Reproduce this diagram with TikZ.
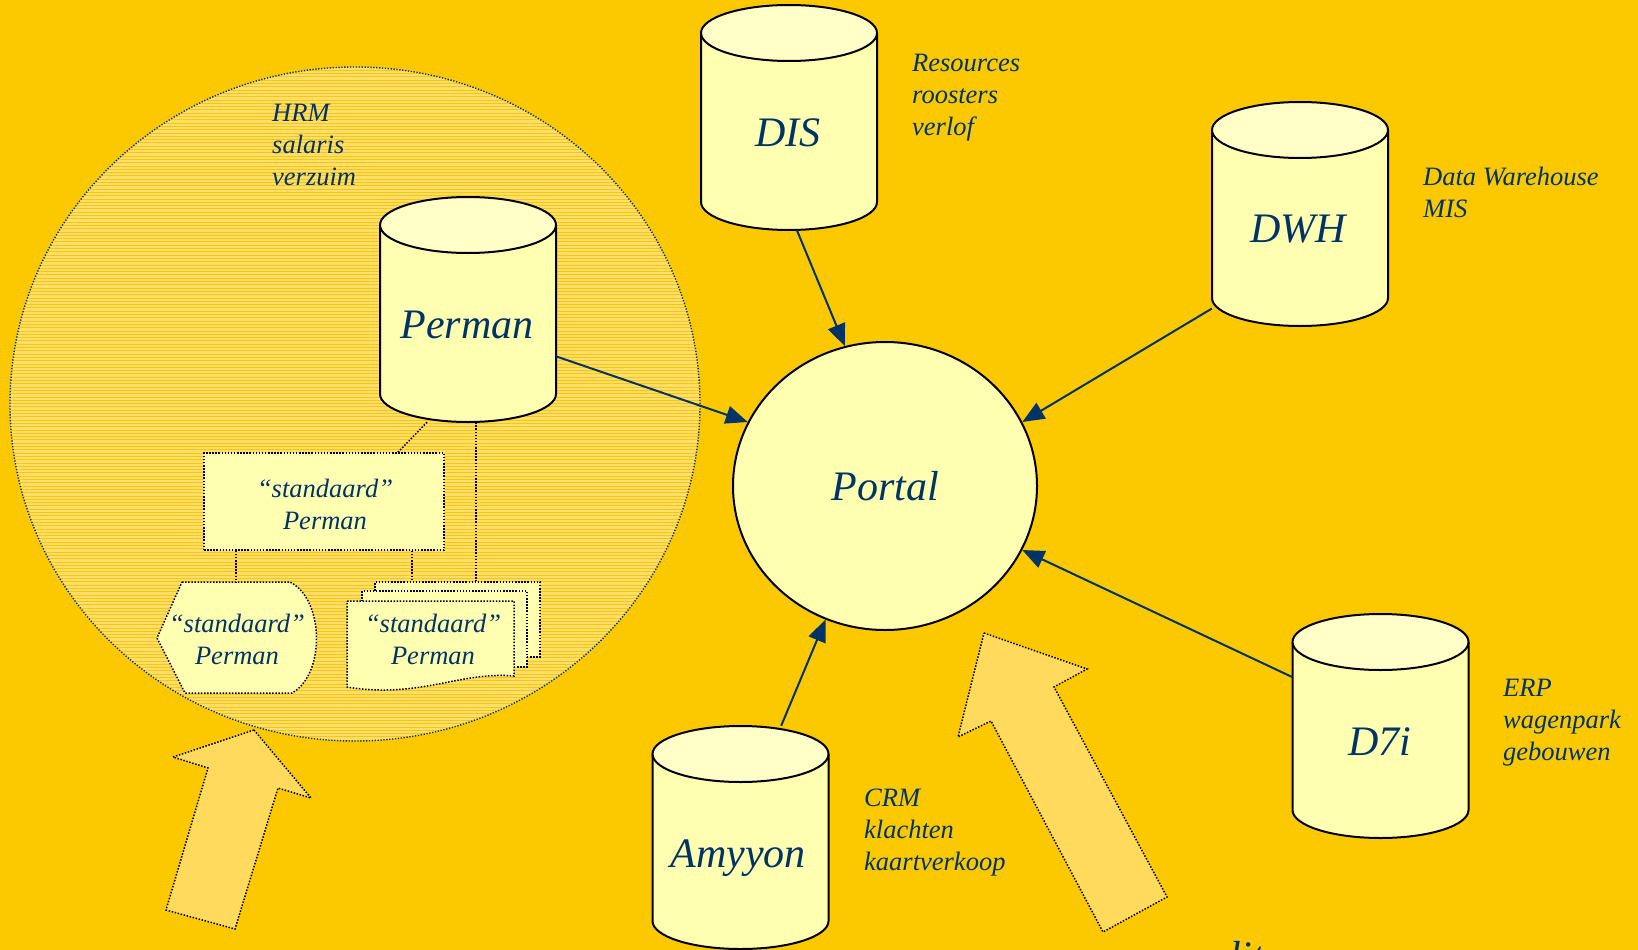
\documentclass[tikz,border=0pt]{standalone}
\usepackage{fontspec}
\setmainfont{Liberation Serif}
\usetikzlibrary{arrows.meta,shapes.geometric}
\definecolor{bg}{RGB}{252,200,0}
\definecolor{navy}{RGB}{0,51,102}
\definecolor{cylfill}{RGB}{255,255,178}
\definecolor{cyltop}{RGB}{255,255,200}
\definecolor{hatchlight}{RGB}{255,222,105}
\definecolor{hatchdark}{RGB}{250,198,20}
\definecolor{arrowfill}{RGB}{255,218,92}
\definecolor{boxfill}{RGB}{255,255,178}
\tikzset{
  cylline/.style={draw=black,line width=2pt},
  cylarea/.style={draw=none,inner sep=0pt,minimum width=176pt},
  dbname/.style={text=navy,font=\itshape\fontsize{42}{46}\selectfont,inner sep=0pt},
  sidelbl/.style={text=navy,font=\itshape\fontsize{26.5}{32}\selectfont,align=left,inner sep=0pt,anchor=north west},
  boxtxt/.style={text=navy,font=\itshape\fontsize{26.5}{32}\selectfont,align=center,inner sep=0pt},
  dotborder/.style={draw=black,line width=1.5pt,dash pattern=on 1.5pt off 1.6pt},
  dotline/.style={draw=black,line width=1.5pt,dash pattern=on 1.5pt off 1.6pt},
  docrect/.style={dotborder,fill=boxfill,inner sep=0pt},
  bigarrow/.style={dotborder,fill=arrowfill,line join=miter},
  conn/.style={draw=navy,line width=2pt,-{Triangle[length=22pt,width=18pt]}},
}
\newcommand\dbcyl[3]{%
  \fill[cylfill] (#1-88,-#2-28) -- (#1-88,-#3+28) arc[start angle=180,end angle=360,x radius=88pt,y radius=28pt] -- (#1+88,-#2-28) -- cycle;
  \draw[cylline] (#1-88,-#2-28) -- (#1-88,-#3+28) arc[start angle=180,end angle=360,x radius=88pt,y radius=28pt] -- (#1+88,-#2-28);
  \filldraw[fill=cyltop,cylline] (#1,-#2-28) ellipse[x radius=88pt,y radius=28pt];
}
\begin{document}
\begin{tikzpicture}[x=1pt,y=1pt]
\useasboundingbox (0,0) rectangle (1638,-950);
\fill[bg] (0,0) rectangle (1638,-950);
\begin{scope}
\clip (0,0) rectangle (1638,-950);

% hatched HRM circle
\begin{scope}
  \clip (355,-404) ellipse[x radius=345pt,y radius=337pt];
  \fill[hatchlight] (0,-60) rectangle (710,-750);
  \foreach \y in {67,70.3,...,745} \draw[hatchdark,line width=1pt] (0,-\y) -- (710,-\y);
\end{scope}
\node[ellipse,draw=navy,line width=1.4pt,dash pattern=on 1.3pt off 1.6pt,minimum width=690pt,minimum height=674pt,inner sep=0pt] (hrm) at (355,-404) {};

% hollow arrows
\draw[bigarrow] (254,-730) -- (311,-798) -- (278,-788) -- (235,-929) -- (166,-910) -- (208,-768) -- (173,-757) -- cycle;
\draw[bigarrow] (984,-633) -- (1087,-669) -- (1054,-687) -- (1167,-897) -- (1103,-932) -- (991,-721) -- (958,-737) -- cycle;

% standard Perman variants
\node[docrect,minimum width=240pt,minimum height=97pt] (std) at (324,-501.5) {};
\node[boxtxt] (std-txt) at (325,-504) {“standaard”\\Perman};

\filldraw[dotborder,fill=boxfill] (182,-582) -- (290,-582) .. controls (325,-600) and (325,-675) .. (292,-693) -- (185,-693) -- (157,-638) -- cycle;
\coordinate (disp-top) at (236,-582);
\node[boxtxt] (disp-txt) at (237,-639) {“standaard”\\Perman};

\node[docrect,minimum width=165pt,minimum height=75pt] (doc3) at (457.5,-619.5) {};
\node[docrect,minimum width=165pt,minimum height=76pt] (doc2) at (444.5,-629) {};
\filldraw[dotborder,fill=boxfill] (347,-601) -- (514,-601) -- (514,-676) .. controls (460,-671) and (420,-699) .. (347,-687) -- cycle;
\node[boxtxt] (doc1-txt) at (433,-639) {“standaard”\\Perman};

% cylinders
\dbcyl{468}{197}{422}
\node[cylarea,minimum height=225pt] (perman) at (468,-309.5) {};
\dbcyl{789}{5}{230}
\node[cylarea,minimum height=225pt] (dis) at (789,-117.5) {};
\dbcyl{1300}{102}{326}
\node[cylarea,minimum height=224pt] (dwh) at (1300,-214) {};
\dbcyl{1380.5}{614}{838}
\node[cylarea,minimum height=224pt] (d7i) at (1380.5,-726) {};
\dbcyl{740.5}{726}{949}
\node[cylarea,minimum height=223pt] (amy) at (740.5,-837.5) {};

% dotted links
\draw[dotline] (perman.-110) -- ([xshift=74pt]std.north);
\draw[dotline] (perman.-86) -- (perman.-86 |- doc3.north);
\draw[dotline] ([xshift=-88pt]std.south) -- (disp-top);
\path ([xshift=88pt]std.south) coordinate (s2);
\draw[dotline] (s2) -- (s2 |- doc3.north);

% portal
\node[ellipse,draw=black,line width=2pt,fill=cylfill,minimum width=304pt,minimum height=288pt,inner sep=0pt,text=navy,font=\itshape\fontsize{42}{46}\selectfont] (portal) at (885,-486) {Portal};

% connectors
\draw[conn] (dis.-86) -- (portal.106);
\draw[conn] (perman.-28) -- (portal.155);
\draw[conn] (dwh.227.5) -- (portal.25.7);
\draw[conn] (d7i.151) -- (portal.-25.7);
\draw[conn] (amy.70.5) -- (portal.246.5);

% names
\node[dbname,anchor=base] (perman-name) at (467,-338) {Perman};
\node[dbname,anchor=base] (dis-name) at (788,-146) {DIS};
\node[dbname,anchor=base] (dwh-name) at (1298,-242) {DWH};
\node[dbname,anchor=base] (d7i-name) at (1380,-755) {D7i};
\node[dbname,anchor=base] (amy-name) at (738,-867) {Amyyon};

% side labels
\node[sidelbl] (hrm-info) at (272,-104) {HRM\\salaris\\verzuim};
\node[sidelbl] (dis-info) at (912,-54) {Resources\\roosters\\verlof};
\node[sidelbl] (dwh-info) at (1423,-167) {Data Warehouse\\MIS};
\node[sidelbl] (d7i-info) at (1503,-679) {ERP\\wagenpark\\gebouwen};
\node[sidelbl] (amy-info) at (864,-789) {CRM\\klachten\\kaartverkoop};

% cut-off text at bottom
\node[dbname,anchor=base west] (cut) at (1229,-970) {lit};
\end{scope}
\end{tikzpicture}
\end{document}
